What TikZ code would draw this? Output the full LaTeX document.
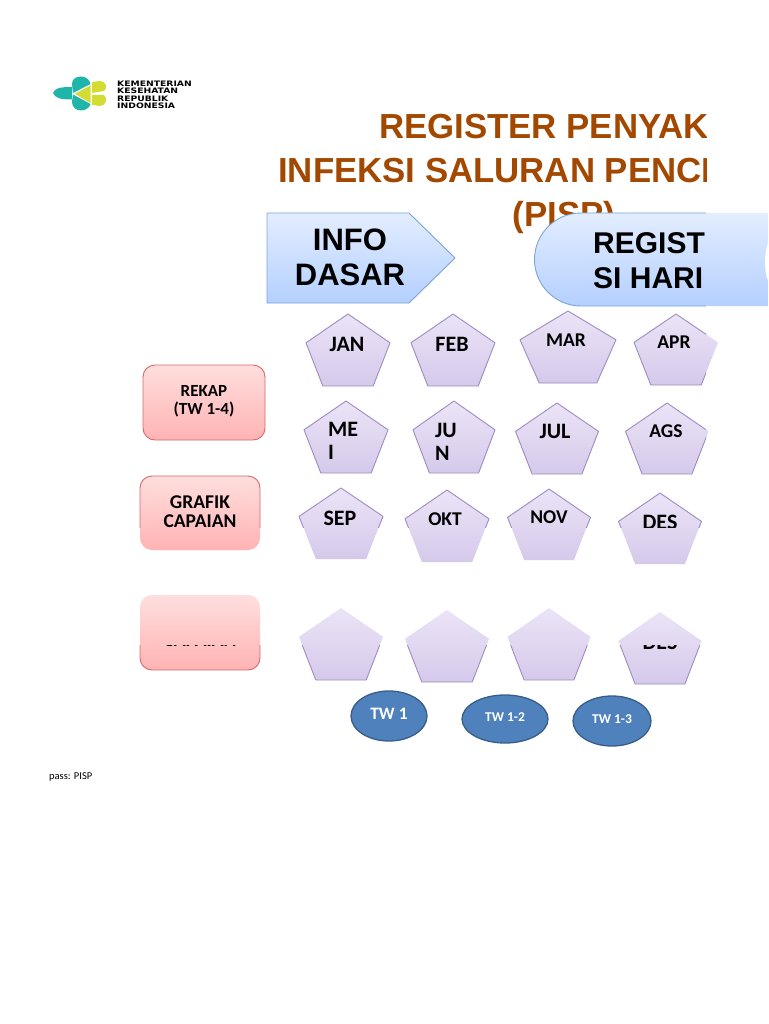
\documentclass[tikz,border=0pt]{standalone}
\usepackage{fontspec}
\setmainfont{Carlito}
\newfontfamily\judulfont{Liberation Sans}
\newfontfamily\logofont[FakeStretch=1.23]{DejaVu Sans}
\usepackage{xcolor}
\definecolor{judulcol}{HTML}{A34800}
\definecolor{tealcol}{HTML}{1FB5A8}
\definecolor{limecol}{HTML}{D3DC32}
\definecolor{ungua}{HTML}{EBE4F7}
\definecolor{unguc}{HTML}{D5C9EA}
\definecolor{ungul}{HTML}{9F8BC0}
\definecolor{meraha}{HTML}{FFDEDE}
\definecolor{merahb}{HTML}{FFB3B3}
\definecolor{merahl}{HTML}{D8686A}
\definecolor{birua}{HTML}{E3EDFF}
\definecolor{birub}{HTML}{B4D0FF}
\definecolor{birul}{HTML}{7BA5D6}
\definecolor{twfill}{HTML}{4F81BD}
\definecolor{twline}{HTML}{385D8A}
\tikzset{
  segifill/.style={top color=ungua, bottom color=unguc},
  segiline/.style={draw=ungul, line width=0.9pt},
  merah/.style={top color=meraha, bottom color=merahb},
  merahline/.style={draw=merahl, line width=0.9pt},
  biru/.style={top color=birua, bottom color=birub},
  biruline/.style={draw=birul, line width=0.9pt},
  teks/.style={inner sep=0pt, align=center, font=\bfseries\fontsize{22}{24}\selectfont},
  teksk/.style={inner sep=0pt, align=center, font=\bfseries\fontsize{19.5}{19}\selectfont},
  tw/.style={ellipse, draw=twline, line width=1.3pt, fill=twfill, text=white, inner sep=0pt, text depth=4pt},
  every picture/.style={line cap=round, line join=round}
}
\usetikzlibrary{shapes.geometric}
% bentuk segilima: puncak x, puncak y, lebar, tinggi
\newcommand{\segipath}[4]{(#1,#2) -- (#1+#3/2,#2+#4*0.4) -- (#1+#3*0.3,#2+#4) -- (#1-#3*0.3,#2+#4) -- (#1-#3/2,#2+#4*0.4) -- cycle}
\begin{document}
\begin{tikzpicture}[x=1pt,y=-1pt]
  \useasboundingbox (0,0) rectangle (768,1024);
  % logo
  \fill[tealcol] (53,93) .. controls (55,88) and (60,87) .. (72,87) -- (72,99.5) .. controls (60,99.5) and (55,98) .. (53,93) -- cycle;
  \fill[tealcol] (72,84) .. controls (72,79) and (76,76.5) .. (81,76.5) .. controls (86,76.5) and (90,80) .. (90.5,84) -- (73,93) -- cycle;
  \fill[tealcol] (72,102) .. controls (72,107) and (76,110.5) .. (81,110.5) .. controls (86,110.5) and (90,107) .. (90.5,104) -- (73,94.5) -- cycle;
  \fill[limecol] (92,82) -- (100,81) .. controls (106,81) and (108,88) .. (104,91) -- (92,93) -- cycle;
  \fill[limecol] (92,95) -- (104,95) .. controls (108,98) and (106,106) .. (100,106) -- (92,105) -- cycle;
  \fill[limecol] (90.5,85.5) -- (90.5,103) -- (75,93.8) -- cycle;
  \node[anchor=north west, inner sep=0pt, align=left, font=\logofont\bfseries\fontsize{7.5}{7.3}\selectfont] (logotext) at (117,81) {KEMENTERIAN\\KESEHATAN\\REPUBLIK\\INDONESIA};
  % judul
  \begin{scope}
    \clip (0,0) rectangle (706,1024);
    \node[anchor=base west, inner sep=0pt, text=judulcol, font=\judulfont\bfseries\fontsize{34.8}{35}\selectfont] (judula) at (379,138.5) {REGISTER PENYAK};
    \node[anchor=base west, inner sep=0pt, text=judulcol, font=\judulfont\bfseries\fontsize{34.8}{35}\selectfont] (judulb) at (278,182.5) {INFEKSI SALURAN PENCE};
  \end{scope}
  \node[anchor=base, inner sep=0pt, text=judulcol, font=\judulfont\bfseries\fontsize{34.8}{35}\selectfont] (judulc) at (564,226.5) {(PISP)};
  % panah dan pil
  \shade[biru] (267,213) -- (409,213) -- (455,258) -- (409,303) -- (267,303) -- cycle;
  \draw[biruline] (267,213) -- (409,213) -- (455,258) -- (409,303) -- (267,303) -- cycle;
  \node[inner sep=0pt, align=center, font=\judulfont\bfseries\fontsize{31}{35}\selectfont] (info) at (350,257) {INFO\\DASAR};
  \shade[biru] (768,213) -- (581,213) arc[start angle=270,end angle=90,radius=46.5] -- (768,306) -- cycle;
  \fill[white] (768,243) .. controls (764,255) and (764,270) .. (768,281) -- cycle;
  \begin{scope}
    \clip (0,0) rectangle (706,1024);
    \draw[biruline] (768,213) -- (581,213) arc[start angle=270,end angle=90,radius=46.5] -- (768,306);
    \node[anchor=base west, inner sep=0pt, font=\judulfont\bfseries\fontsize{30}{37}\selectfont] (regist) at (593,253) {REGIST};
    \node[anchor=base west, inner sep=0pt, font=\judulfont\bfseries\fontsize{30}{37}\selectfont] (hari) at (593,288) {SI HARI};
  \end{scope}
  % kotak merah
  \shade[merah, rounded corners=12pt] (143,365) rectangle (265,440);
  \draw[merahline, rounded corners=12pt] (143,365) rectangle (265,440);
  \node[inner sep=0pt, align=center, font=\bfseries\fontsize{17}{18}\selectfont] (rekap) at (204,401.5) {REKAP\\(TW 1-4)};
  \shade[merah, rounded corners=12pt] (140,476) rectangle (260,550);
  \shade[merah, rounded corners=12pt] (140,595) rectangle (260,670);
  % segilima, isi dulu
  \shade[segifill] \segipath{348}{314}{84}{72};
  \shade[segifill] \segipath{453}{314}{84}{72};
  \shade[segifill] \segipath{568}{311}{96}{72};
  \shade[segifill] \segipath{676}{314}{84}{71};
  \shade[segifill] \segipath{346}{401}{84}{72};
  \shade[segifill] \segipath{454}{401}{82}{72};
  \shade[segifill] \segipath{557}{403}{83}{71};
  \shade[segifill] \segipath{667}{403}{83}{71};
  \shade[segifill] \segipath{341}{488}{84}{71};
  \shade[segifill] \segipath{447}{490}{84}{72};
  \shade[segifill] \segipath{549}{489}{83}{71};
  \shade[segifill] \segipath{660}{493}{83}{71};
  \shade[segifill] \segipath{341}{608}{84}{72};
  \shade[segifill] \segipath{447}{610}{84}{72};
  \shade[segifill] \segipath{549}{608}{83}{72};
  \shade[segifill] \segipath{660}{612}{83}{72};
  % bagian atas terpotong
  \begin{scope}
    \clip (0,0) rectangle (706,527.5);
    \draw[segiline] \segipath{348}{314}{84}{72};
    \draw[segiline] \segipath{453}{314}{84}{72};
    \draw[segiline] \segipath{568}{311}{96}{72};
    \draw[segiline] \segipath{676}{314}{84}{71};
    \draw[segiline] \segipath{346}{401}{84}{72};
    \draw[segiline] \segipath{454}{401}{82}{72};
    \draw[segiline] \segipath{557}{403}{83}{71};
    \draw[segiline] \segipath{667}{403}{83}{71};
    \draw[segiline] \segipath{341}{488}{84}{71};
    \draw[segiline] \segipath{447}{490}{84}{72};
    \draw[segiline] \segipath{549}{489}{83}{71};
    \draw[segiline] \segipath{660}{493}{83}{71};
    \draw[merahline, rounded corners=12pt] (140,476) rectangle (260,550);
    \node[teks] (jan) at (347,344) {JAN};
    \node[teks] (feb) at (452,344) {FEB};
    \node[teksk] (mar) at (566,340) {MAR};
    \node[teksk] (apr) at (674,342) {APR};
    \node[anchor=north west, inner sep=0pt, align=left, font=\bfseries\fontsize{22}{23}\selectfont] (mei) at (328,422) {ME\\I};
    \node[anchor=north west, inner sep=0pt, align=left, font=\bfseries\fontsize{22}{23}\selectfont] (jun) at (435,423) {JU\\N};
    \node[teks] (jul) at (555,431) {JUL};
    \node[teksk] (ags) at (666,431) {AGS};
    \node[teks] (sep) at (340,518) {SEP};
    \node[teksk] (okt) at (445,519) {OKT};
    \node[teksk] (nov) at (549,517) {NOV};
    \node[teks] (des) at (660,522) {DES};
    \node[teksk] (grafik) at (200,512) {GRAFIK\\CAPAIAN};
  \end{scope}
  % bagian bawah terpotong
  \begin{scope}
    \clip (0,645) rectangle (706,1024);
    \draw[segiline] \segipath{341}{608}{84}{72};
    \draw[segiline] \segipath{447}{610}{84}{72};
    \draw[segiline] \segipath{549}{608}{83}{72};
    \draw[segiline] \segipath{660}{612}{83}{72};
    \draw[merahline, rounded corners=12pt] (140,595) rectangle (260,670);
    \node[teks] (desb) at (660,642) {DES};
    \node[teksk] (capaianb) at (200,630.5) {\phantom{GRAFIK}\\CAPAIAN};
  \end{scope}
  % triwulan
  \node[tw, minimum width=76pt, minimum height=50pt, font=\bfseries\fontsize{17.5}{18}\selectfont] (tw1) at (389,716) {TW 1};
  \node[tw, minimum width=86pt, minimum height=48pt, font=\bfseries\fontsize{13.5}{15}\selectfont] (tw2) at (505,719) {TW 1-2};
  \node[tw, minimum width=78pt, minimum height=50pt, font=\bfseries\fontsize{13.5}{15}\selectfont] (tw3) at (612,721) {TW 1-3};
  \node[anchor=base west, inner sep=0pt, font=\fontsize{10.5}{12}\selectfont] (pass) at (49,779) {pass: PISP};
\end{tikzpicture}
\end{document}
